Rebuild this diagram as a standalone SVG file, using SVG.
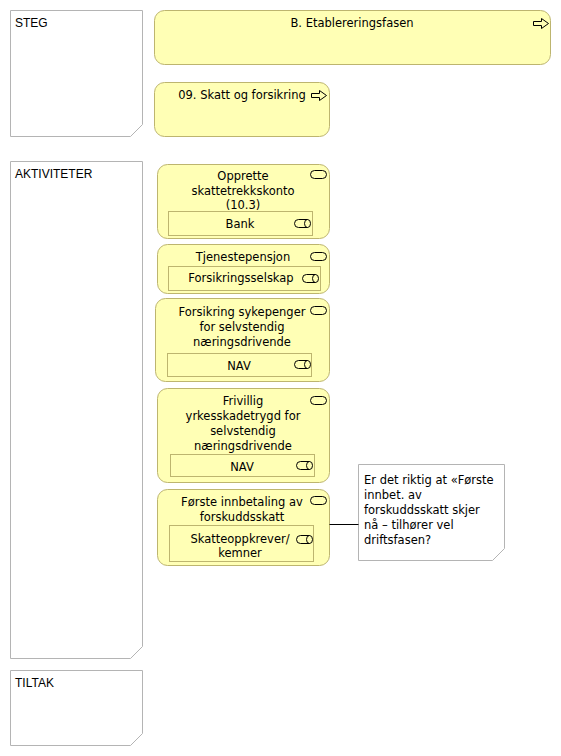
<svg xmlns="http://www.w3.org/2000/svg" width="561" height="756" viewBox="0 0 561 756">
  <style>
    .lane { fill: #ffffff; stroke: #b4b4b4; stroke-width: 1; }
    .lane-label { font-family: "Liberation Sans", Arial, sans-serif; font-size: 12px; fill: #000; }
    .biz { fill: #ffffb5; stroke: #bdb56f; stroke-width: 1; }
    .role { fill: #ffffb5; stroke: #bdb56f; stroke-width: 1; }
    .note { fill: #ffffff; stroke: #b4b4b4; stroke-width: 1; }
    .txt { font-family: "DejaVu Sans", Verdana, sans-serif; font-size: 11.5px; fill: #000; text-anchor: middle; }
    .ntxt { font-family: "DejaVu Sans", Verdana, sans-serif; font-size: 11.5px; fill: #000; }
    .icon { fill: none; stroke: #000; stroke-width: 1; }
    .conn { stroke: #000; stroke-width: 1; fill: none; }
  </style>
  <defs>
    <!-- business service: rounded pill -->
    <rect id="svc" x="0" y="0" width="16" height="8" rx="4" ry="4" class="icon"/>
    <!-- business role: pill with end circle -->
    <g id="roleIcon">
      <path d="M4,0 H13 M4,8 H13 M4,0 A4,4 0 0 0 4,8" class="icon"/>
      <ellipse cx="13" cy="4" rx="3" ry="4" class="icon"/>
    </g>
    <!-- value stream / process arrow -->
    <polygon id="arrow" points="0,3 8,3 8,0 15,5 8,10 8,7 0,7" class="icon"/>
  </defs>

  <!-- swimlane groupings -->
  <g id="lane-steg">
    <path d="M10.5,10.5 H142.5 V124.5 L130.5,136.5 H10.5 Z" class="lane"/>
    <text x="15" y="27" class="lane-label">STEG</text>
  </g>
  <g id="lane-aktiviteter">
    <path d="M10.5,161.5 H142.5 V646.5 L130.5,658.5 H10.5 Z" class="lane"/>
    <text x="15" y="178" class="lane-label">AKTIVITETER</text>
  </g>
  <g id="lane-tiltak">
    <path d="M10.5,670.5 H142.5 V733.5 L130.5,745.5 H10.5 Z" class="lane"/>
    <text x="15" y="687" class="lane-label">TILTAK</text>
  </g>

  <!-- steps -->
  <g id="fase-b">
    <rect x="154.5" y="10.5" width="396" height="54" rx="10" ry="10" class="biz"/>
    <text x="352" y="27" class="txt">B. Etablereringsfasen</text>
    <use href="#arrow" x="533.5" y="18.5"/>
  </g>
  <g id="steg-09">
    <rect x="154.5" y="82.5" width="175" height="54" rx="10" ry="10" class="biz"/>
    <text x="242" y="99" class="txt">09. Skatt og forsikring</text>
    <use href="#arrow" x="311.5" y="90.5"/>
  </g>

  <!-- activities -->
  <g id="akt-skattetrekkskonto">
    <rect x="157.5" y="164.5" width="172" height="74" rx="10" ry="10" class="biz"/>
    <text x="243" y="180" class="txt">Opprette</text>
    <text x="243" y="195" class="txt">skattetrekkskonto</text>
    <text x="243" y="209" class="txt">(10.3)</text>
    <use href="#svc" x="310.5" y="170.5"/>
    <g id="rolle-bank">
      <rect x="168.5" y="211.5" width="144" height="24" class="role"/>
      <text x="240" y="228" class="txt">Bank</text>
      <use href="#roleIcon" x="294.5" y="219.5"/>
    </g>
  </g>

  <g id="akt-tjenestepensjon">
    <rect x="157.5" y="244.5" width="172" height="49" rx="10" ry="10" class="biz"/>
    <text x="243" y="261" class="txt">Tjenestepensjon</text>
    <use href="#svc" x="310.5" y="252.5"/>
    <g id="rolle-forsikringsselskap">
      <rect x="168.5" y="266.5" width="152" height="24" class="role"/>
      <text x="241" y="282" class="txt">Forsikringsselskap</text>
      <use href="#roleIcon" x="302.5" y="274.5"/>
    </g>
  </g>

  <g id="akt-sykepenger">
    <rect x="155.5" y="298.5" width="174" height="83" rx="10" ry="10" class="biz"/>
    <text x="242" y="316" class="txt">Forsikring sykepenger</text>
    <text x="242" y="331" class="txt">for selvstendig</text>
    <text x="242" y="346" class="txt">næringsdrivende</text>
    <use href="#svc" x="310.5" y="306.5"/>
    <g id="rolle-nav-1">
      <rect x="167.5" y="353.5" width="144" height="23" class="role"/>
      <text x="239" y="370" class="txt">NAV</text>
      <use href="#roleIcon" x="294.5" y="360.5"/>
    </g>
  </g>

  <g id="akt-yrkesskadetrygd">
    <rect x="157.5" y="388.5" width="172" height="94" rx="10" ry="10" class="biz"/>
    <text x="243" y="405" class="txt">Frivillig</text>
    <text x="243" y="420" class="txt">yrkesskadetrygd for</text>
    <text x="243" y="435" class="txt">selvstendig</text>
    <text x="243" y="450" class="txt">næringsdrivende</text>
    <use href="#svc" x="310.5" y="396.5"/>
    <g id="rolle-nav-2">
      <rect x="170.5" y="454.5" width="144" height="22" class="role"/>
      <text x="242" y="471" class="txt">NAV</text>
      <use href="#roleIcon" x="296.5" y="461.5"/>
    </g>
  </g>

  <g id="akt-forskuddsskatt">
    <rect x="157.5" y="489.5" width="172" height="76" rx="10" ry="10" class="biz"/>
    <text x="242" y="506" class="txt">Første innbetaling av</text>
    <text x="242" y="521" class="txt">forskuddsskatt</text>
    <use href="#svc" x="310.5" y="496.5"/>
    <g id="rolle-skatteoppkrever">
      <rect x="169.5" y="525.5" width="144" height="36" class="role"/>
      <text x="240" y="543" class="txt">Skatteoppkrever/</text>
      <text x="240" y="557" class="txt">kemner</text>
      <use href="#roleIcon" x="296.5" y="535.5"/>
    </g>
  </g>

  <!-- comment note -->
  <g id="note-driftsfasen">
    <path d="M358.5,464.5 H504.5 V548.5 L492.5,560.5 H358.5 Z" class="note"/>
    <text x="364" y="484" class="ntxt">Er det riktig at «Første</text>
    <text x="364" y="499" class="ntxt">innbet. av</text>
    <text x="364" y="514" class="ntxt">forskuddsskatt skjer</text>
    <text x="364" y="529" class="ntxt">nå – tilhører vel</text>
    <text x="364" y="544" class="ntxt">driftsfasen?</text>
  </g>

  <!-- connectors -->
  <g id="connectors">
    <line x1="329.5" y1="524.5" x2="358.5" y2="524.5" class="conn"/>
  </g>
</svg>
